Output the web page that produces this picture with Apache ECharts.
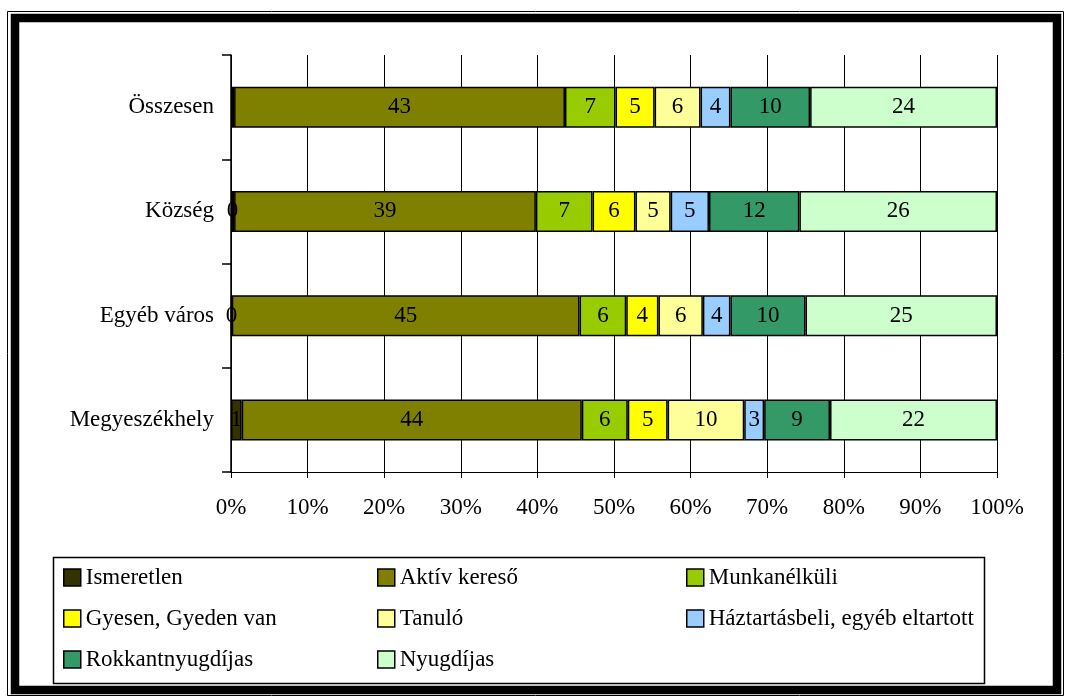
<!DOCTYPE html>
<html>
<head>
<meta charset="utf-8">
<script src="https://cdn.jsdelivr.net/npm/echarts@6/dist/echarts.min.js"></script>
<style>
html,body{margin:0;padding:0;background:#fff;}
#c{width:1067px;height:697px;}
</style>
</head>
<body>
<div id="c"></div>
<script>
// Categories, top to bottom
const categories = ['Összesen', 'Község', 'Egyéb város', 'Megyeszékhely'];
const xTicks = [0, 10, 20, 30, 40, 50, 60, 70, 80, 90, 100];

// Shares (%) per category, in the order of `categories`
const ismeretlen    = [0.4, 0.4, 0.1, 1.4];
const aktivKereso   = [43.2, 39.4, 45.4, 44.4];
const munkanelkuli  = [6.6, 7.4, 6.1, 6.0];
const gyes          = [5.1, 5.6, 4.2, 5.2];
const tanulo        = [6.0, 4.6, 5.8, 10.0];
const haztartas     = [3.9, 5.0, 3.6, 2.6];
const rokkant       = [10.4, 11.8, 9.8, 8.6];
const nyugdijas     = [24.4, 25.8, 25.0, 21.8];

const seriesNames = ['Ismeretlen', 'Aktív kereső', 'Munkanélküli', 'Gyesen, Gyeden van',
  'Tanuló', 'Háztartásbeli, egyéb eltartott', 'Rokkantnyugdíjas', 'Nyugdíjas'];
const seriesData = [ismeretlen, aktivKereso, munkanelkuli, gyes, tanulo, haztartas, rokkant, nyugdijas];
const colors = ['#333300', '#808000', '#99CC00', '#FFFF00', '#FFFF99', '#99CCFF', '#339966', '#CCFFCC'];

const FONT = '"Liberation Serif", "Times New Roman", serif';
const FS = 23;

const chart = echarts.init(document.getElementById('c'), null, {renderer: 'canvas'});

const series = seriesNames.map((name, i) => ({
  name: name,
  type: 'bar',
  stack: 'total',
  barWidth: 41,
  data: seriesData[i],
  itemStyle: {color: colors[i], borderColor: '#000', borderWidth: 1.5},
  label: {
    show: true,
    position: 'inside',
    color: '#000',
    fontFamily: FONT,
    fontSize: FS,
    formatter: p => (p.seriesName === 'Ismeretlen' && p.name === 'Összesen') ? '' : String(Math.round(p.value))
  },
  emphasis: {disabled: true},
  animation: false
}));

const legendCommon = {
  orient: 'vertical',
  itemWidth: 17,
  itemHeight: 17,
  itemGap: 18,
  icon: 'rect',
  selectedMode: false,
  textStyle: {fontFamily: FONT, fontSize: FS, color: '#000', lineHeight: 23},
  itemStyle: {borderColor: '#000', borderWidth: 1.5},
  padding: 0
};

chart.setOption({
  backgroundColor: '#fff',
  color: colors,
  animation: false,
  grid: {left: 231, right: 70, top: 55, bottom: 225, containLabel: false},
  xAxis: {
    type: 'value',
    min: 0, max: 100, interval: 10,
    axisLine: {show: true, lineStyle: {color: '#000', width: 1}},
    axisTick: {show: true, length: 6, lineStyle: {color: '#000'}},
    splitLine: {show: true, lineStyle: {color: '#000', width: 1}},
    axisLabel: {
      fontFamily: FONT, fontSize: FS, color: '#000', margin: 24,
      formatter: v => xTicks.indexOf(v) >= 0 ? v + '%' : ''
    }
  },
  yAxis: {
    type: 'category',
    inverse: true,
    data: categories,
    axisLine: {show: true, lineStyle: {color: '#000', width: 1.5}},
    axisTick: {show: true, length: 9, lineStyle: {color: '#000', width: 1.5}},
    splitLine: {show: false},
    axisLabel: {fontFamily: FONT, fontSize: FS, color: '#000', margin: 17}
  },
  legend: [
    Object.assign({}, legendCommon, {left: 63, top: 566, data: ['Ismeretlen', 'Gyesen, Gyeden van', 'Rokkantnyugdíjas']}),
    Object.assign({}, legendCommon, {left: 377, top: 566, data: ['Aktív kereső', 'Tanuló', 'Nyugdíjas']}),
    Object.assign({}, legendCommon, {left: 686, top: 566, data: ['Munkanélküli', 'Háztartásbeli, egyéb eltartott']})
  ],
  graphic: [
    {type: 'rect', silent: true, z: 100, shape: {x: 7.5, y: 11.5, width: 1056, height: 684},
      style: {fill: 'none', stroke: '#000', lineWidth: 1}},
    {type: 'rect', silent: true, z: 100, shape: {x: 15, y: 18, width: 1042, height: 672},
      style: {fill: 'none', stroke: '#000', lineWidth: 8.5}},
    {type: 'rect', silent: true, z: 100, shape: {x: 53.5, y: 557.5, width: 931, height: 126},
      style: {fill: 'none', stroke: '#000', lineWidth: 1.5}}
  ],
  series: series
});
</script>
</body>
</html>
